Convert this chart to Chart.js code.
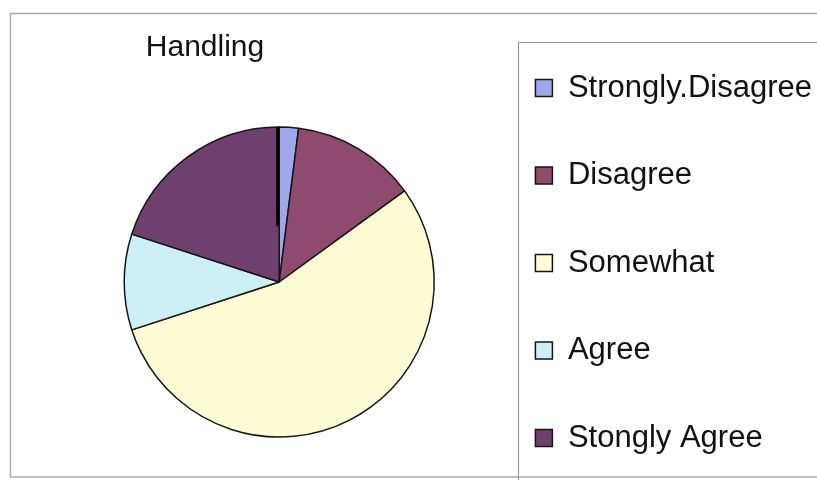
<!DOCTYPE html>
<html>
<head>
<meta charset="utf-8">
<title>Handling</title>
<script src="https://cdn.jsdelivr.net/npm/chart.js@4"></script>
<style>
  html, body { margin: 0; padding: 0; background: #fff; overflow: hidden; }
  #wrap { width: 817px; height: 480px; position: relative; overflow: hidden; }
  #handlingChart { position: absolute; left: 0; top: 0; }
</style>
</head>
<body>
<div id="wrap"><canvas id="handlingChart" width="822" height="548"></canvas></div>
<script>
// survey answers for "Handling"
var chartTitle = 'Handling';
var answers = ['Strongly.Disagree', 'Disagree', 'Somewhat', 'Agree', 'Stongly Agree'];
var shares = [2, 13, 55, 10, 20];
var sliceColors = ['#9ea8ea', '#8f4a6f', '#fdfcd4', '#cdeff8', '#6f3f6d'];

var fontFamily = "'Liberation Sans', Arial, sans-serif";

// frame, legend box, title text and the dark stroke on the first slice edge
var decorations = {
    id: 'decorations',
    beforeDraw: function (chart) {
        var ctx = chart.ctx;
        ctx.save();
        ctx.fillStyle = '#fff';
        ctx.fillRect(0, 0, chart.width, chart.height);
        ctx.strokeStyle = '#aaaaaa';
        ctx.lineWidth = 1.5;
        ctx.beginPath();
        ctx.moveTo(chart.width, 13.5);
        ctx.lineTo(10.5, 13.5);
        ctx.lineTo(10.5, 477);
        ctx.lineTo(chart.width, 477);
        ctx.stroke();

        ctx.strokeStyle = '#9a9a9a';
        ctx.lineWidth = 1.2;
        ctx.beginPath();
        ctx.moveTo(518.5, 480);
        ctx.lineTo(518.5, 42.5);
        ctx.lineTo(chart.width, 42.5);
        ctx.stroke();

        ctx.fillStyle = '#111';
        ctx.font = '30px ' + fontFamily;
        ctx.textAlign = 'center';
        ctx.textBaseline = 'alphabetic';
        ctx.fillText(chartTitle, 205, 56);
        ctx.restore();
    },
    afterDatasetsDraw: function (chart) {
        var arc = chart.getDatasetMeta(0).data[0];
        if (!arc) return;
        var p = arc.getProps(['x', 'y', 'startAngle', 'outerRadius']);
        var ctx = chart.ctx;
        ctx.save();
        ctx.strokeStyle = '#000';
        ctx.lineWidth = 3;
        ctx.beginPath();
        ctx.moveTo(p.x - 1.5 + Math.cos(p.startAngle) * p.outerRadius * 0.36,
                   p.y + Math.sin(p.startAngle) * p.outerRadius * 0.36);
        ctx.lineTo(p.x - 1.5 + Math.cos(p.startAngle) * p.outerRadius,
                   p.y + Math.sin(p.startAngle) * p.outerRadius);
        ctx.stroke();
        ctx.restore();
    }
};

var ctx = document.getElementById('handlingChart').getContext('2d');
var handlingChart = new Chart(ctx, {
    type: 'pie',
    data: {
        labels: answers,
        datasets: [{
            data: shares,
            backgroundColor: sliceColors,
            borderColor: '#151515',
            borderWidth: 1.5,
            radius: 155
        }]
    },
    options: {
        responsive: false,
        animation: false,
        layout: {
            padding: { top: 16, bottom: 0, left: 79.5, right: 0 }
        },
        plugins: {
            title: { display: false },
            tooltip: { enabled: false },
            legend: {
                position: 'right',
                align: 'start',
                labels: {
                    boxWidth: 17,
                    boxHeight: 17,
                    padding: 56.5,
                    color: '#111',
                    font: { size: 31, family: fontFamily }
                }
            }
        }
    },
    plugins: [decorations]
});
</script>
</body>
</html>
